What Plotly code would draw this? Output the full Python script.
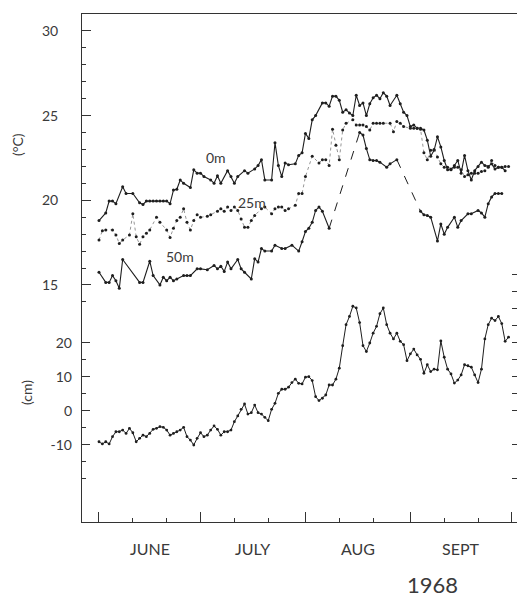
import datetime as dt
import plotly.graph_objects as go

START = dt.datetime(1968, 6, 1)

# ---- data: day numbers are counted from 1 June 1968 ----
DAY_0M = [0, 2, 3, 4, 5, 7, 8, 10, 12, 13, 14, 15, 16, 17, 18, 19, 20,
          21, 22, 23, 24, 25, 27, 28, 29, 30, 31, 33, 34, 35, 36, 38, 39, 40, 41,
          43, 44, 46, 47, 48, 49, 51, 52, 53, 54, 55, 56, 58, 59, 60, 61, 62, 63, 64,
          66, 67, 68, 69, 70, 71, 72, 73, 74, 75, 76, 77, 78, 79, 80, 81, 82, 83, 84, 85, 86,
          88, 89, 90, 91, 92, 93, 94, 95, 96, 97, 98, 99, 100, 101, 102, 103, 104, 105,
          106, 107, 108, 109, 110, 111, 112, 113, 114, 115, 116, 117, 118, 119, 120]
TEMP_0M = [18.8, 19.25, 19.95, 19.95, 19.8, 20.8, 20.4, 20.4, 19.85, 19.75, 19.95, 19.95, 19.95, 19.95, 19.95, 19.95, 19.95,
           19.8, 20.6, 20.65, 21.2, 21.0, 20.75, 21.8, 21.6, 21.6, 21.4, 21.2, 21.0, 21.45, 21.0, 21.75, 21.4, 21.0, 21.4,
           21.75, 21.6, 21.85, 22.05, 22.4, 21.2, 21.2, 23.4, 22.05, 21.4, 22.2, 22.1, 22.15, 22.65, 22.8, 23.95, 23.65, 24.75, 25.0,
           25.75, 25.75, 25.55, 26.15, 26.15, 25.9, 25.2, 25.35, 25.15, 25.0, 26.2, 25.6, 25.75, 25.0, 25.7, 26.05, 26.2, 26.0, 26.35, 26.15, 25.6,
           26.2, 25.7, 25.2, 25.0, 24.35, 24.45, 24.25, 24.25, 24.15, 23.55, 22.6, 22.95, 23.75, 23.15, 22.35, 21.8, 21.8, 22.05,
           22.35, 21.6, 22.65, 21.75, 21.2, 21.75, 22.0, 22.25, 22.05, 22.0, 22.15, 21.85, 21.95, 21.95, 21.75]

DAY_25M = [0, 1, 2, 4, 5, 6, 7, 9, 10, 11, 12, 13, 14, 15, 17, 18, 20, 21, 22, 23, 24, 25, 26, 27, 28, 29, 30,
           32, 33, 35, 36, 37, 38, 39, 40, 41, 42, 43, 44, 45, 46, 48, 49, 51, 52, 53, 54, 55, 56, 58, 59, 60, 61,
           63, 65, 66, 67, 68, 69, 70, 71, 72, 73, 75, 76, 77, 78, 79, 80, 81, 82, 83, 84, 86, 87, 88, 89, 90,
           92, 93, 94, 95, 96, 97, 98, 99, 100, 101, 102, 103, 104, 105, 106, 107, 108, 109, 110, 111, 112, 113,
           114, 115, 116, 117, 118, 119, 120, 121]
TEMP_25M = [17.65, 18.2, 18.25, 18.25, 17.95, 17.45, 17.65, 17.95, 19.2, 17.85, 17.4, 17.85, 18.05, 18.25, 19.0, 18.7,
            18.25, 17.8, 18.35, 18.8, 19.0, 19.5, 18.7, 18.25, 18.8, 19.15, 19.0,
            19.05, 19.15, 19.35, 19.5, 19.35, 19.6, 19.4, 19.6, 19.4, 18.9, 18.4, 18.4, 18.8, 19.1, 19.5, 19.6, 19.2, 19.5,
            19.6, 19.6, 19.4, 19.5, 19.7, 20.4, 20.4, 21.4,
            22.6, 22.2, 22.4, 22.4, 22.05, 24.2, 23.25, 22.4, 24.15, 24.55, 24.75, 24.45, 24.45, 24.45, 24.35, 24.15,
            24.55, 24.55, 24.55, 24.55, 24.55, 24.05, 24.65, 24.55, 24.35,
            24.25, 24.25, 24.25, 24.2, 22.8, 22.4, 22.95, 23.0, 22.55, 22.15, 21.95, 21.95, 21.85, 21.95, 21.95, 21.8,
            21.4, 21.5, 21.6, 21.6, 21.6, 21.7, 21.75, 21.95, 22.35, 22.05, 21.95, 21.95, 22.0, 22.0]

DAY_50M = [0, 2, 3, 4, 5, 6, 7, 12, 13, 15, 16, 18, 19, 20, 21, 22, 23, 25, 26, 27, 29, 30, 32, 34, 35, 36, 37,
           38, 39, 41, 42, 43, 45, 46, 47, 48, 49, 51, 52, 54, 55, 57, 59, 60, 61, 62, 63, 64, 65, 66, 68,
           77, 78, 79, 80, 81, 82, 83, 85, 86, 88,
           95, 96, 97, 98, 100, 101, 102, 103, 105, 106, 107, 109, 110, 112, 113, 114, 115, 116, 117, 118, 119]
TEMP_50M = [15.75, 15.15, 15.15, 15.55, 15.25, 14.8, 16.5, 15.15, 15.15, 16.4, 15.55, 15.0, 15.45, 15.25, 15.45,
            15.25, 15.35, 15.55, 15.55, 15.55, 15.95, 15.95, 15.9, 16.15, 15.95, 16.1, 15.8,
            16.35, 15.95, 16.5, 15.95, 15.75, 15.35, 16.55, 16.35, 17.15, 17.0, 17.0, 17.35, 17.15, 17.15, 17.35,
            17.0, 17.55, 18.15, 18.35, 18.7, 19.4, 19.6, 19.35, 18.35,
            24.0, 23.85, 23.05, 22.4, 22.35, 22.35, 22.25, 21.95, 22.15, 22.4,
            19.35, 19.15, 19.1, 19.0, 17.6, 18.6, 18.0, 18.4, 19.0, 18.4, 18.8, 19.2, 19.2, 19.4, 19.25, 19.0,
            19.8, 20.2, 20.4, 20.4, 20.4]
GAPS_50M = [(68, 77), (88, 95)]  # missing 50 m observations, drawn dashed

# daily sea level (cm), from 1 June
LEVEL_CM = [-9.05, -9.7, -9.05, -9.7, -7.55, -6.1, -6.1, -5.6, -6.6, -5.1, -6.4, -9.05, -8.05, -7.1, -7.55,
            -6.6, -5.4, -5.1, -4.6, -4.8, -5.6, -7.1, -6.6, -6.1, -5.6, -4.8, -7.55, -8.55, -10.0, -8.05,
            -6.4, -7.55, -7.1, -5.6, -4.4, -5.4, -7.1, -6.1, -6.1, -5.6, -3.15, -1.45, 0.5, 2.05, -0.9,
            -0.5, 1.75, -0.5, -0.9, -1.85, -2.85, 0.5, 2.25, 5.2, 6.4, 6.4, 7.0, 8.35, 9.35, 8.15,
            7.95, 9.95, 10.1, 8.95, 4.2, 3.05, 3.75, 4.7, 7.65, 7.65, 9.35, 12.6, 19.2, 25.4, 27.8,
            30.8, 30.3, 26.0, 19.2, 17.5, 20.0, 22.9, 24.9, 28.6, 30.3, 25.4, 22.9, 21.2, 22.9, 20.5,
            19.5, 14.8, 16.8, 18.2, 16.5, 15.2, 11.1, 13.6, 11.6, 12.3, 12.1, 20.6, 15.8, 12.3, 10.9,
            8.2, 9.1, 10.6, 13.6, 13.3, 12.9, 10.6, 8.35, 12.3, 21.2, 25.4, 27.3, 26.6, 27.8, 25.7,
            20.5, 21.7]

MONTHS = ["JUNE", "JULY", "AUG", "SEPT"]
MONTH_STARTS = ["1968-06-01", "1968-07-01", "1968-08-01", "1968-09-01", "1968-10-01"]
TEN_DAY_TICKS = ["1968-06-11", "1968-06-21", "1968-07-11", "1968-07-21", "1968-08-11",
                 "1968-08-21", "1968-09-11", "1968-09-21"]
T_TICKS = [15, 20, 25, 30]
T_MINOR = [14, 16, 17, 18, 19, 21, 22, 23, 24, 26, 27, 28, 29]
CM_TICKS = [-10, 0, 10, 20]
CM_MINOR = [-20, -15, -5, 5, 15]
CM_RIGHT = [-20, -10, 0, 5, 10, 15, 20, 25, 30, 35, 40]
DEPTH_LABELS = ["0m", "25m", "50m"]
YEAR = "1968"

INK = "#1e1e1e"
TXT = "#3a3a3a"
FONT = "Lato"


def to_dates(days):
    return [START + dt.timedelta(days=d) for d in days]


fig = go.Figure()

fig.add_trace(go.Scatter(x=to_dates(DAY_0M), y=TEMP_0M, mode="lines+markers",
                         line=dict(color=INK, width=1.1), marker=dict(size=3, color=INK),
                         name="0m", yaxis="y"))
fig.add_trace(go.Scatter(x=to_dates(DAY_25M), y=TEMP_25M, mode="lines+markers",
                         line=dict(color="#8a8a8a", width=0.9, dash="dot"), marker=dict(size=3, color=INK),
                         name="25m", yaxis="y"))

# 50 m: solid where observed, dashed across missing days
x50, y50 = [], []
gap_starts = {a for a, b in GAPS_50M}
for d, v in zip(DAY_50M, TEMP_50M):
    x50.append(START + dt.timedelta(days=d))
    y50.append(v)
    if d in gap_starts:
        x50.append(None)
        y50.append(None)
fig.add_trace(go.Scatter(x=x50, y=y50, mode="lines+markers", connectgaps=False,
                         line=dict(color=INK, width=1.1), marker=dict(size=3, color=INK),
                         name="50m", yaxis="y"))
lookup50 = dict(zip(DAY_50M, TEMP_50M))
for a, b in GAPS_50M:
    fig.add_trace(go.Scatter(x=to_dates([a, b]), y=[lookup50[a], lookup50[b]], mode="lines",
                             line=dict(color=INK, width=1, dash="dash"), showlegend=False,
                             hoverinfo="skip", yaxis="y"))

fig.add_trace(go.Scatter(x=to_dates(range(len(LEVEL_CM))), y=LEVEL_CM, mode="lines+markers",
                         line=dict(color=INK, width=1), marker=dict(size=2.8, color=INK),
                         name="sea level", yaxis="y2"))
# empty trace so the right-hand tick axis is drawn
fig.add_trace(go.Scatter(x=[None], y=[None], mode="lines", yaxis="y3", showlegend=False,
                         hoverinfo="skip"))

x_lo = START - dt.timedelta(days=5.02)
x_hi = START + dt.timedelta(days=123.5)

tickfont = dict(family=FONT, size=14, color=TXT)

fig.update_layout(
    width=517, height=601,
    margin=dict(l=82, r=0, t=14, b=79),
    paper_bgcolor="white", plot_bgcolor="white",
    showlegend=False,
    font=dict(family=FONT, color=TXT),
    xaxis=dict(type="date", range=[x_lo, x_hi], showgrid=False, zeroline=False,
               showline=True, linecolor="#333", linewidth=1, mirror=True,
               ticks="inside", tickvals=MONTH_STARTS, ticklen=10, tickcolor="#333",
               showticklabels=False,
               minor=dict(tickvals=TEN_DAY_TICKS, ticks="inside", ticklen=4,
                          tickcolor="#333", showgrid=False)),
    yaxis=dict(range=[1.0, 31.0], showgrid=False, zeroline=False,
               showline=True, linecolor="#333", linewidth=1,
               ticks="inside", tickvals=T_TICKS, ticktext=[str(t) for t in T_TICKS],
               ticklen=9, tickcolor="#333", tickfont=tickfont, ticklabelstandoff=20,
               minor=dict(tickvals=T_MINOR, ticks="inside", ticklen=4, tickcolor="#333",
                          showgrid=False)),
    yaxis2=dict(overlaying="y", side="left", range=[-32.65, 116.76], showgrid=False,
                zeroline=False, showline=False,
                ticks="inside", tickvals=CM_TICKS, ticktext=[str(t) for t in CM_TICKS],
                ticklen=8, tickcolor="#333", tickfont=tickfont, ticklabelstandoff=9,
                minor=dict(tickvals=CM_MINOR, ticks="inside", ticklen=4, tickcolor="#333",
                           showgrid=False)),
    yaxis3=dict(overlaying="y", side="right", range=[-32.65, 116.76], showgrid=False,
                zeroline=False, showline=False, ticks="inside", tickvals=CM_RIGHT,
                ticklen=5, tickcolor="#333", showticklabels=False),
)


def label(text, x, y, size, xref="paper", angle=0):
    return dict(text=text, x=x, y=y, xref=xref, yref="paper", showarrow=False,
                xanchor="center", yanchor="middle", textangle=angle,
                font=dict(family=FONT, size=size, color=TXT))


ann = []
label_pos = [(0.308, 0.7185), (0.391, 0.628), (0.2253, 0.5217)]
for txt, (px, py) in zip(DEPTH_LABELS, label_pos):
    ann.append(label(txt, px, py, 14))
ann.append(label("(°C)", -0.1494, 0.742, 14, angle=-90))
ann.append(label("(cm)", -0.1264, 0.254, 14, angle=-90))
for i, m in enumerate(MONTHS):
    a = dt.datetime.fromisoformat(MONTH_STARTS[i])
    b = dt.datetime.fromisoformat(MONTH_STARTS[i + 1])
    ann.append(label(m, a + (b - a) / 2, -0.0531, 16, xref="x"))
ann.append(label(YEAR, 0.8046, -0.124, 22))
fig.update_layout(annotations=ann)

fig.write_html("out.html")
